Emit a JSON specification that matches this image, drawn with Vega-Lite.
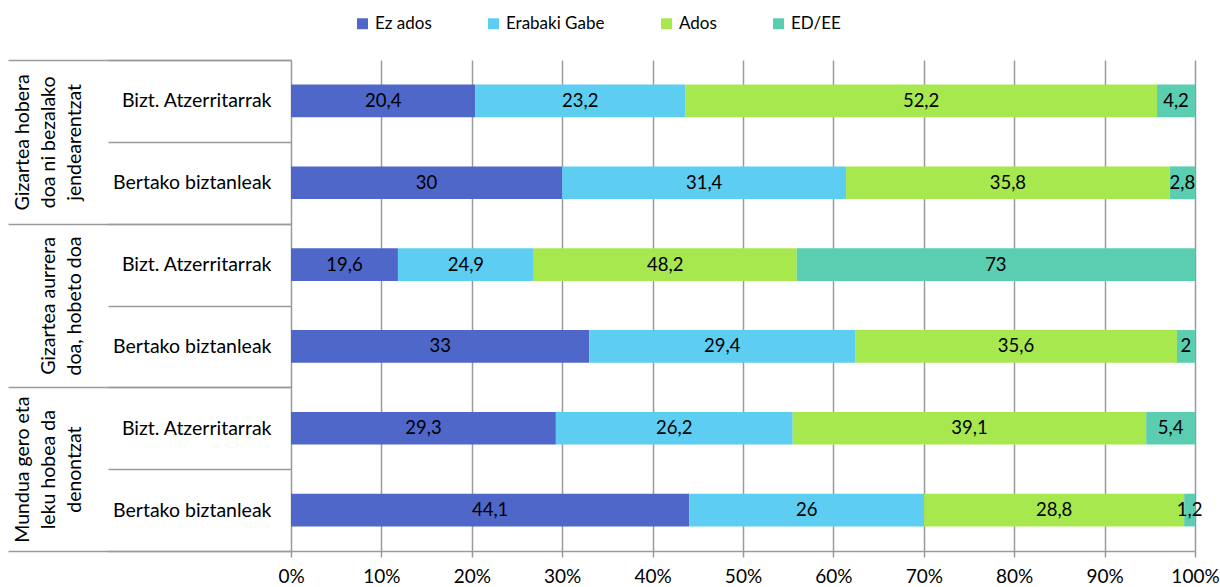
{
  "$schema": "https://vega.github.io/schema/vega-lite/v6.json",
  "autosize": "none",
  "width": 904,
  "height": 491,
  "padding": {"left": 291, "top": 60, "right": 25, "bottom": 36},
  "config": {
    "view": {"stroke": null},
    "font": "Lato",
    "locale": {"number": {"decimal": ",", "thousands": ".", "grouping": [3], "currency": ["", " €"]}}
  },
  "data": {
    "values": [
      {"group": "Gizartea hobera|doa ni bezalako|jendearentzat", "row": "Bizt. Atzerritarrak|1", "cat": "Ez ados", "k": 1, "value": 20.4},
      {"group": "Gizartea hobera|doa ni bezalako|jendearentzat", "row": "Bizt. Atzerritarrak|1", "cat": "Erabaki Gabe", "k": 2, "value": 23.2},
      {"group": "Gizartea hobera|doa ni bezalako|jendearentzat", "row": "Bizt. Atzerritarrak|1", "cat": "Ados", "k": 3, "value": 52.2},
      {"group": "Gizartea hobera|doa ni bezalako|jendearentzat", "row": "Bizt. Atzerritarrak|1", "cat": "ED/EE", "k": 4, "value": 4.2},
      {"group": "Gizartea hobera|doa ni bezalako|jendearentzat", "row": "Bertako biztanleak|2", "cat": "Ez ados", "k": 1, "value": 30},
      {"group": "Gizartea hobera|doa ni bezalako|jendearentzat", "row": "Bertako biztanleak|2", "cat": "Erabaki Gabe", "k": 2, "value": 31.4},
      {"group": "Gizartea hobera|doa ni bezalako|jendearentzat", "row": "Bertako biztanleak|2", "cat": "Ados", "k": 3, "value": 35.8},
      {"group": "Gizartea hobera|doa ni bezalako|jendearentzat", "row": "Bertako biztanleak|2", "cat": "ED/EE", "k": 4, "value": 2.8},
      {"group": "Gizartea aurrera|doa, hobeto doa", "row": "Bizt. Atzerritarrak|3", "cat": "Ez ados", "k": 1, "value": 19.6},
      {"group": "Gizartea aurrera|doa, hobeto doa", "row": "Bizt. Atzerritarrak|3", "cat": "Erabaki Gabe", "k": 2, "value": 24.9},
      {"group": "Gizartea aurrera|doa, hobeto doa", "row": "Bizt. Atzerritarrak|3", "cat": "Ados", "k": 3, "value": 48.2},
      {"group": "Gizartea aurrera|doa, hobeto doa", "row": "Bizt. Atzerritarrak|3", "cat": "ED/EE", "k": 4, "value": 73},
      {"group": "Gizartea aurrera|doa, hobeto doa", "row": "Bertako biztanleak|4", "cat": "Ez ados", "k": 1, "value": 33},
      {"group": "Gizartea aurrera|doa, hobeto doa", "row": "Bertako biztanleak|4", "cat": "Erabaki Gabe", "k": 2, "value": 29.4},
      {"group": "Gizartea aurrera|doa, hobeto doa", "row": "Bertako biztanleak|4", "cat": "Ados", "k": 3, "value": 35.6},
      {"group": "Gizartea aurrera|doa, hobeto doa", "row": "Bertako biztanleak|4", "cat": "ED/EE", "k": 4, "value": 2},
      {"group": "Mundua gero eta|leku hobea da|denontzat", "row": "Bizt. Atzerritarrak|5", "cat": "Ez ados", "k": 1, "value": 29.3},
      {"group": "Mundua gero eta|leku hobea da|denontzat", "row": "Bizt. Atzerritarrak|5", "cat": "Erabaki Gabe", "k": 2, "value": 26.2},
      {"group": "Mundua gero eta|leku hobea da|denontzat", "row": "Bizt. Atzerritarrak|5", "cat": "Ados", "k": 3, "value": 39.1},
      {"group": "Mundua gero eta|leku hobea da|denontzat", "row": "Bizt. Atzerritarrak|5", "cat": "ED/EE", "k": 4, "value": 5.4},
      {"group": "Mundua gero eta|leku hobea da|denontzat", "row": "Bertako biztanleak|6", "cat": "Ez ados", "k": 1, "value": 44.1},
      {"group": "Mundua gero eta|leku hobea da|denontzat", "row": "Bertako biztanleak|6", "cat": "Erabaki Gabe", "k": 2, "value": 26},
      {"group": "Mundua gero eta|leku hobea da|denontzat", "row": "Bertako biztanleak|6", "cat": "Ados", "k": 3, "value": 28.8},
      {"group": "Mundua gero eta|leku hobea da|denontzat", "row": "Bertako biztanleak|6", "cat": "ED/EE", "k": 4, "value": 1.2}
    ]
  },
  "layer": [
    {
      "layer": [
        {
          "mark": {"type": "bar", "height": {"band": 0.4}},
          "encoding": {
            "y": {
              "field": "row", "type": "nominal", "sort": null,
              "scale": {"paddingInner": 0, "paddingOuter": 0},
              "axis": {
                "orient": "left",
                "title": null,
                "labelExpr": "datum.value ? split(datum.value, '|')[0] : ''",
                "tickBand": "extent",
                "tickSize": 183,
                "tickColor": "#9a9a9a",
                "tickWidth": 1.5,
                "domain": false,
                "labelPadding": -163,
                "labelAlign": "right",
                "labelBaseline": "middle",
                "labelFontSize": 19.5,
                "labelColor": "#000000",
                "labelLimit": 400,
                "labelOverlap": false
              }
            },
            "x": {
              "field": "value", "type": "quantitative", "stack": "normalize",
              "scale": {"domain": [0, 1]},
              "axis": {
                "title": null,
                "format": "%",
                "values": [0, 0.1, 0.2, 0.3, 0.4, 0.5, 0.6, 0.7, 0.8, 0.9, 1],
                "grid": true,
                "gridColor": "#9a9a9a",
                "gridWidth": 1.5,
                "tickColor": "#9a9a9a",
                "tickWidth": 1.5,
                "tickSize": 6,
                "domainColor": "#9a9a9a",
                "domainWidth": 1.5,
                "labelPadding": 10,
                "labelFontSize": 19,
                "labelColor": "#000000",
                "labelFlush": false
              }
            },
            "color": {
              "field": "cat", "type": "nominal",
              "scale": {
                "domain": ["Ez ados", "Erabaki Gabe", "Ados", "ED/EE"],
                "range": ["#4f67c8", "#5dcdf2", "#a7e84f", "#5bcdb1"]
              },
              "legend": {
                "title": null,
                "orient": "none",
                "direction": "horizontal",
                "legendX": 63,
                "legendY": -45,
                "symbolType": "square",
                "symbolSize": 120,
                "symbolStrokeWidth": 0,
                "labelFontSize": 17,
                "labelColor": "#000000",
                "labelOffset": 4,
                "columnPadding": 53
              }
            },
            "order": {"field": "k", "type": "quantitative"}
          }
        },
        {
          "mark": {"type": "text", "fontSize": 18.5, "color": "#000000"},
          "encoding": {
            "y": {"field": "row", "type": "nominal", "sort": null},
            "x": {"field": "value", "type": "quantitative", "stack": "normalize", "bandPosition": 0.5},
            "detail": {"field": "cat", "type": "nominal"},
            "order": {"field": "k", "type": "quantitative"},
            "text": {"field": "value", "type": "quantitative", "format": ".3~r"}
          }
        }
      ]
    },
    {
      "mark": {"type": "point", "opacity": 0},
      "encoding": {
        "y": {
          "field": "group", "type": "nominal", "sort": null,
          "scale": {"paddingInner": 0, "paddingOuter": 0},
          "axis": {
            "orient": "left",
            "title": null,
            "labelExpr": "datum.value ? (length(split(datum.value, '|')) == 2 ? ['', split(datum.value, '|')[0], split(datum.value, '|')[1]] : split(datum.value, '|')) : ''",
            "tickBand": "extent",
            "tickSize": 283,
            "tickColor": "#9a9a9a",
            "tickWidth": 1.5,
            "domain": false,
            "labelPadding": -24,
            "labelAngle": 270,
            "labelAlign": "center",
            "labelBaseline": "bottom",
            "labelLineHeight": 26,
            "labelFontSize": 19.5,
            "labelColor": "#000000",
            "labelLimit": 400,
            "labelOverlap": false
          }
        }
      }
    }
  ],
  "resolve": {"scale": {"y": "independent"}, "axis": {"y": "independent"}}
}
